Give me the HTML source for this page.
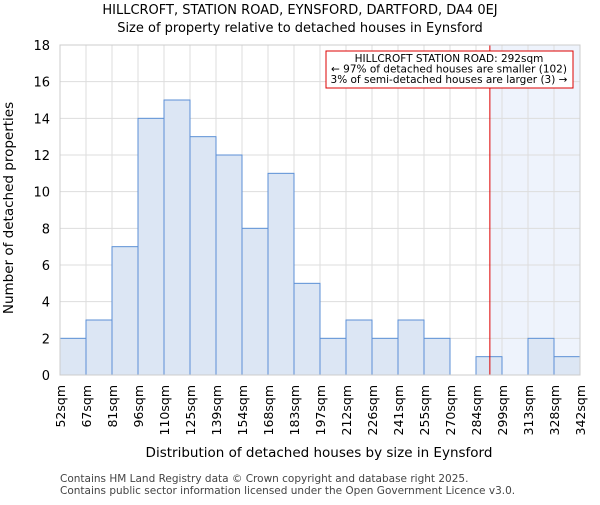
<!DOCTYPE html>
<html><head><meta charset="utf-8"><style>
body{margin:0;background:#fff}
svg{font-family:"DejaVu Sans","Liberation Sans",sans-serif}
</style></head><body>
<svg id="c" width="600" height="500">
<text x="300" y="14" text-anchor="middle" font-size="13">HILLCROFT, STATION ROAD, EYNSFORD, DARTFORD, DA4 0EJ</text>
<text x="300" y="32" text-anchor="middle" font-size="13">Size of property relative to detached houses in Eynsford</text>
<text x="319" y="457" text-anchor="middle" font-size="13.5">Distribution of detached houses by size in Eynsford</text>
<text transform="translate(13,208) rotate(-90)" text-anchor="middle" font-size="13.5">Number of detached properties</text>
<text x="60" y="482" font-size="10.5" fill="#444">Contains HM Land Registry data © Crown copyright and database right 2025.</text>
<text x="60" y="494" font-size="10.5" fill="#444">Contains public sector information licensed under the Open Government Licence v3.0.</text>
<g id="g"></g>
</svg>
<script>
const categories=["52sqm","67sqm","81sqm","96sqm","110sqm","125sqm","139sqm","154sqm","168sqm","183sqm","197sqm","212sqm","226sqm","241sqm","255sqm","270sqm","284sqm","299sqm","313sqm","328sqm","342sqm"];
const values=[2,3,7,14,15,13,12,8,11,5,2,3,2,3,2,0,1,0,2,1];
const yTicks=[0,2,4,6,8,10,12,14,16,18];
const marker=292;
const markerBin=16, binStart=284, binEnd=299;
const L=60,R=580,T=45,B=375,ymax=18;
const n=values.length,bw=(R-L)/n;
const x=i=>L+i*bw;
const y=v=>B-(v/ymax)*(B-T);
const g=document.getElementById('g');
const NS="http://www.w3.org/2000/svg";
function mk(t,a){const e=document.createElementNS(NS,t);for(const k in a)e.setAttribute(k,a[k]);g.appendChild(e);return e;}
const mx=x(markerBin)+(marker-binStart)/(binEnd-binStart)*bw;
let sh=mk('rect',{x:mx,y:T,width:R-mx,height:B-T,fill:'#eef3fc'});


for(let i=0;i<=n;i++){let l=mk('line',{x1:x(i),x2:x(i),y1:T,y2:B,stroke:'#ddd'});

}
yTicks.forEach(v=>{let l=mk('line',{x1:L,x2:R,y1:y(v),y2:y(v),stroke:'#ddd'});


let t=mk('text',{x:L-10,y:y(v)+5,'text-anchor':'end','font-size':13});t.textContent=v;

});
values.forEach((v,i)=>{if(v<=0)return;let r=mk('rect',{x:x(i),y:y(v),width:bw,height:B-y(v),fill:'#dce6f4',stroke:'#5b8fd6','stroke-width':1});

});
categories.forEach((c,i)=>{let t=mk('text',{transform:`translate(${x(i)+5},385) rotate(-90)`,'text-anchor':'end','font-size':12.5});t.textContent=c;

});
let ml=mk('line',{x1:mx,x2:mx,y1:T,y2:B,stroke:'#d00','stroke-width':1});


let bx=mk('rect',{x:326,y:51,width:247,height:37,fill:'#fff',stroke:'#d00'});


["HILLCROFT STATION ROAD: 292sqm","← 97% of detached houses are smaller (102)","3% of semi-detached houses are larger (3) →"].forEach((s,k)=>{let t=mk('text',{x:449,y:62+k*10.5,'text-anchor':'middle','font-size':10.5});t.textContent=s;

});
let ax=mk('rect',{x:L,y:T,width:R-L,height:B-T,fill:'none',stroke:'#ccc'});


</script>
</body></html>
